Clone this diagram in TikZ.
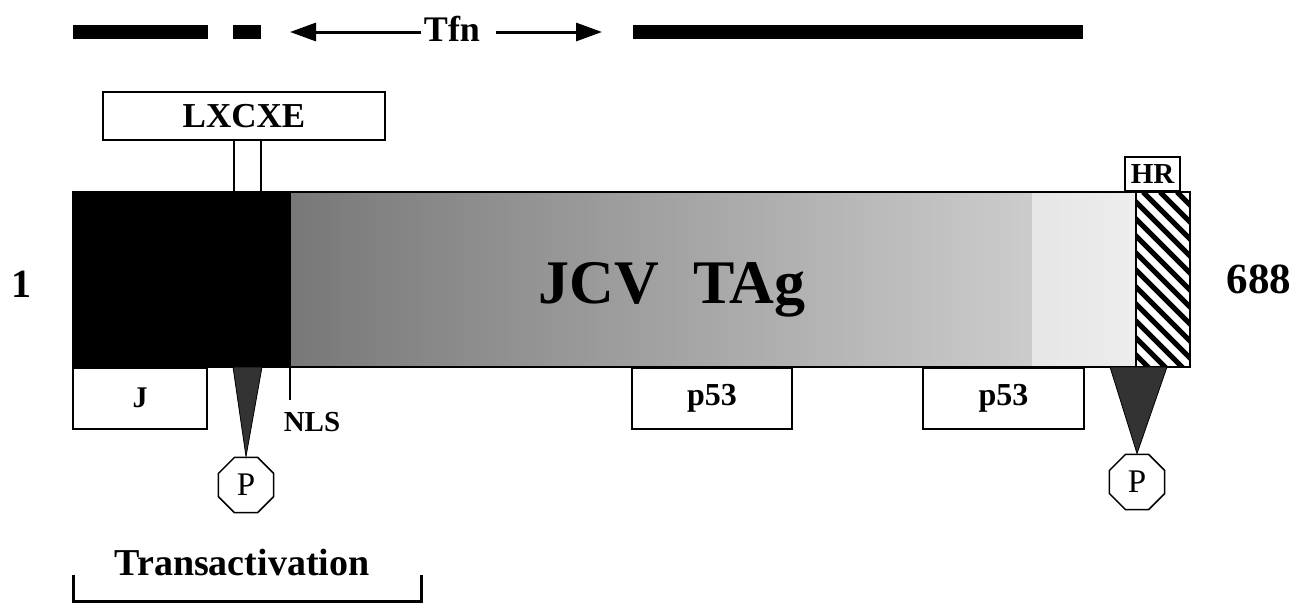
\documentclass[tikz,border=0pt]{standalone}
\usepackage{fontspec}
\setmainfont{Liberation Serif}
\usetikzlibrary{shapes.geometric,arrows.meta}
\newcommand{\fs}[1]{\fontsize{#1}{#1}\selectfont}
\definecolor{gA}{gray}{0.47}
\definecolor{gB}{gray}{0.80}
\definecolor{gC}{gray}{0.90}
\definecolor{gD}{gray}{0.93}
\definecolor{triF}{gray}{0.2}
\begin{document}
\begin{tikzpicture}[x=1pt,y=-1pt,
  box/.style={draw, line width=1.6pt, fill=white, inner sep=0pt, font=\bfseries\fs{32}},
  stem/.style={line width=2.4pt},
  tfnarrow/.style={line width=3pt, -{Triangle[length=26pt,width=18pt]}},
  oct/.style={draw, line width=1.5pt, fill=white, regular polygon, regular polygon sides=8, minimum size=60pt, inner sep=0pt, font=\fs{33}},
  tri/.style={fill=triF, draw=black, line width=0.8pt},
  lbl/.style={font=\bfseries\fs{30}, inner sep=0pt}
]
\useasboundingbox (0,0) rectangle (1300,605);

% top bars
\fill (73,25) rectangle (208,39);
\fill (233,25) rectangle (261,39);
\fill (633,25) rectangle (1083,39);
\node[lbl, font=\bfseries\fs{36}, anchor=base] (tfn) at (452,41) {Tfn};
\coordinate (tl) at (290,32);
\coordinate (tr) at (602,32);
\coordinate (tla) at (421,32);
\coordinate (tra) at (496,32);
\draw[tfnarrow] (tla) -- (tl);
\draw[tfnarrow] (tra) -- (tr);

% main bar
\shade[left color=gA, right color=gB] (290,192) rectangle (1033,367);
\shade[left color=gC, right color=gD] (1032,192) rectangle (1136,367);
\fill[black] (73,192) rectangle (291,367);
\begin{scope}
  \clip (1136,192) rectangle (1190,367);
  \foreach \i in {-204,-187,...,60} \draw[line width=5.2pt] (1143+\i,192) -- ++(190,190);
\end{scope}
\draw[line width=1.8pt] (1136,192) -- (1136,367);
\node[draw, line width=1.8pt, minimum width=1117pt, minimum height=175pt, inner sep=0pt] (bar) at (631.5,279.5) {};
\node[font=\bfseries\fs{62}, inner sep=0pt, anchor=base] (name) at (672,303) {JCV\hspace{0.55em}TAg};

% end labels
\node[lbl, font=\bfseries\fs{40}, anchor=base] (one) at (22,297) {1};
\node[lbl, font=\bfseries\fs{43}, anchor=base] (end) at (1259,293) {688};

% LXCXE
\node[box, font=\bfseries\fs{35}, minimum width=282pt, minimum height=48pt] (lx) at (244,116) {LXCXE};
\draw[stem] ([xshift=-10pt]lx.south) -- ([xshift=-10pt]lx.south |- bar.north);
\draw[stem] ([xshift=17pt]lx.south) -- ([xshift=17pt]lx.south |- bar.north);

% HR
\node[box, font=\bfseries\fs{29}, minimum width=55pt, minimum height=34pt, anchor=south] (hr) at (1152.5,192) {HR};

% lower boxes
\node[box, font=\bfseries\fs{30}, anchor=north, minimum width=134pt, minimum height=61pt] (j) at (140,367) {J};
\node[box, anchor=north, minimum width=160pt, minimum height=61pt] (p53a) at (712,367) {p53};
\node[box, anchor=north, minimum width=161pt, minimum height=61pt] (p53b) at (1003.5,367) {p53};

% NLS
\coordinate (nlst) at (290,367);
\coordinate (nlsb) at (290,400);
\draw[line width=1.6pt] (nlst) -- (nlsb);
\node[lbl, font=\bfseries\fs{29}, anchor=base] (nls) at (312,431) {NLS};

% phosphorylation sites
\node[oct] (p1) at (246,485) {P};
\node[oct] (p2) at (1137,482) {P};
\coordinate (t1a) at (233,367);
\coordinate (t1b) at (262,367);
\coordinate (t2a) at (1110,367);
\coordinate (t2b) at (1167,367);
\draw[tri] (t1a) -- (t1b) -- (p1.north) -- cycle;
\draw[tri] (t2a) -- (t2b) -- (p2.north) -- cycle;

% transactivation
\node[lbl, font=\bfseries\fs{38}, anchor=base] (ta) at (242,575) {Transactivation};
\coordinate (bl) at (73,575);
\coordinate (br) at (421,575);
\draw[line width=3pt] (bl) -- ([yshift=-26pt]bl) -- ([yshift=-26pt]br) -- (br);
\end{tikzpicture}
\end{document}
